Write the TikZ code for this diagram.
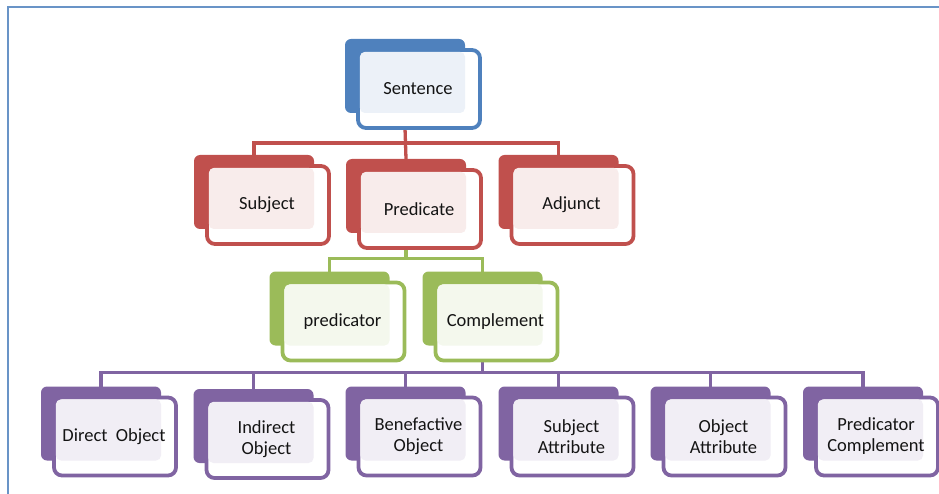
\documentclass[tikz,border=0pt]{standalone}
\usepackage{fontspec}
\setmainfont{Carlito}
\usepackage{xcolor}
\usetikzlibrary{positioning,calc,backgrounds}

\definecolor{hdblue}{HTML}{4F81BD}
\definecolor{hdred}{HTML}{C0504D}
\definecolor{hdgreen}{HTML}{9BBB59}
\definecolor{hdpurple}{HTML}{8064A2}

% name, x, y (centre of the back tab), colour, text
\newcommand{\tagbox}[5]{%
  \node[backbox, fill=#4] (#1-back) at (#2,#3) {};
  \node[frontbox, draw=#4] (#1) at ($(#1-back)+(14,13)$) {};
  \fill[#4!11, rounded corners=5pt] ([shift={(1.9,1.9)}]#1.north west) rectangle (#1-back.south east);
  \node[boxtext] at ([xshift=-1pt]#1.center) {#5};
}

\begin{document}
\begin{tikzpicture}[
  x=1pt, y=-1pt,
  backbox/.style={rounded corners=6pt, minimum width=120pt, minimum height=74pt, inner sep=0pt, outer sep=0pt},
  frontbox/.style={fill=white, line width=3.8pt, rounded corners=8pt, minimum width=122pt, minimum height=78pt, inner sep=0pt, outer sep=0pt},
  boxtext/.style={align=center, text=black!92, font=\fontsize{18.5}{21}\selectfont, inner sep=0pt},
  link/.style={draw=#1, line width=3.3pt}
]
\useasboundingbox (0,0) rectangle (939,494);
\draw[hdblue!85, line width=2pt] (939,7) -- (8,7) -- (8,494);

\tagbox{sentence}{405}{76}{hdblue}{Sentence}

\tagbox{subject}{254}{192}{hdred}{Subject}
\tagbox{predicate}{406}{196}{hdred}{Predicate}
\tagbox{adjunct}{558.5}{192}{hdred}{Adjunct}

\tagbox{predicator}{329.5}{308.5}{hdgreen}{predicator}
\tagbox{complement}{482.5}{308.5}{hdgreen}{Complement}

\tagbox{direct}{101}{423.5}{hdpurple}{Direct\ \ Object}
\tagbox{indirect}{253.5}{426}{hdpurple}{Indirect\\Object}
\tagbox{benefactive}{405.5}{423.5}{hdpurple}{Benefactive\\Object}
\tagbox{subjattr}{558.5}{423.5}{hdpurple}{Subject\\Attribute}
\tagbox{objattr}{710.5}{423.5}{hdpurple}{Object\\Attribute}
\tagbox{predcomp}{863}{423.5}{hdpurple}{Predicator\\Complement}

\begin{scope}[on background layer]
  \coordinate (bus1) at ($(subject-back.north)+(0,-12)$);
  \draw[link=hdred] (subject-back.north) -- (bus1) -| (adjunct-back.north);
  \draw[link=hdred] (sentence.south -| sentence-back) -- (predicate-back.north);

  \coordinate (bus2) at ($(predicator-back.north)+(0,-13)$);
  \draw[link=hdgreen] (predicator-back.north) -- (bus2) -| (complement-back.north);
  \draw[link=hdgreen] (predicate.south -| predicate-back) -- (bus2 -| predicate-back);

  \coordinate (bus3) at ($(direct-back.north)+(0,-14)$);
  \draw[link=hdpurple] (direct-back.north) -- (bus3) -| (predcomp-back.north);
  \foreach \n in {indirect,benefactive,subjattr,objattr}
    \draw[link=hdpurple] (\n-back.north) -- (\n-back.north |- bus3);
  \draw[link=hdpurple] (complement.south -| complement-back) -- (bus3 -| complement-back);
\end{scope}
\end{tikzpicture}
\end{document}
